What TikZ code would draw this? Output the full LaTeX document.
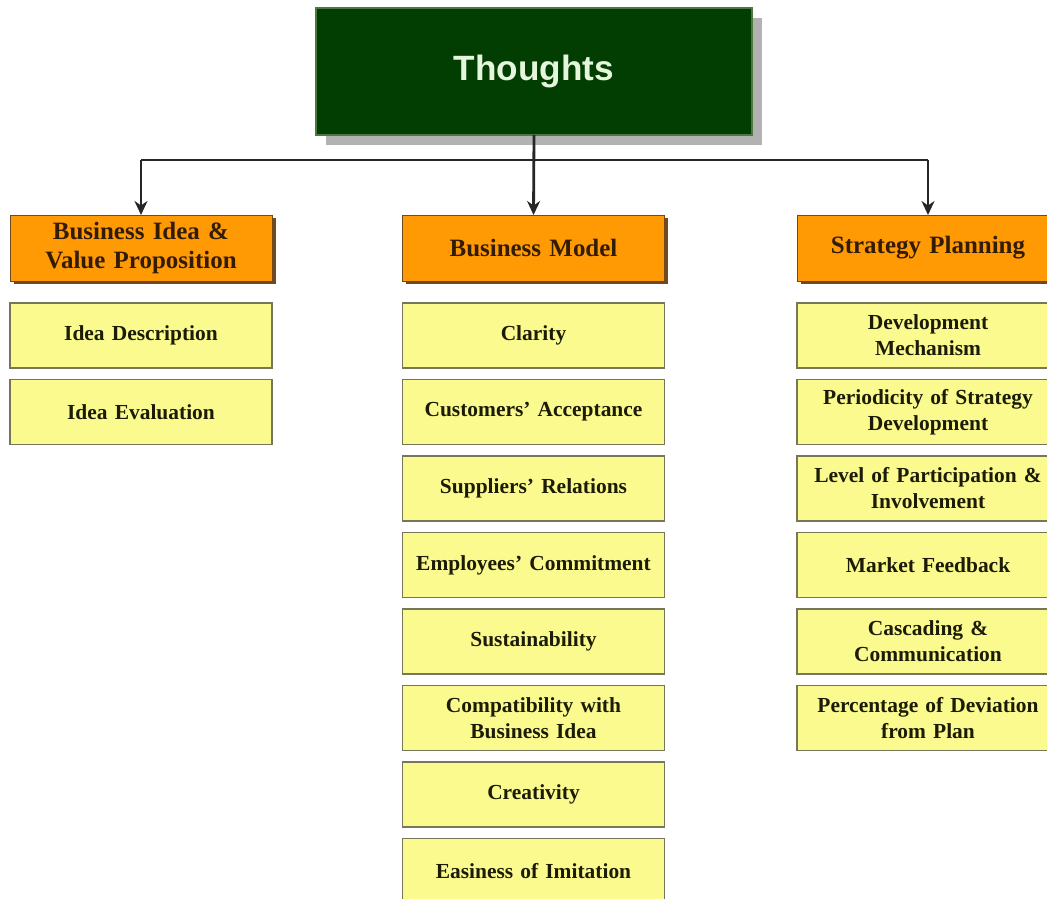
\documentclass[tikz,border=0pt]{standalone}
\usepackage{fontspec}
\setmainfont{Liberation Serif}
\newfontfamily\titlefont{Liberation Sans}
\usetikzlibrary{positioning,shadows,arrows.meta}

\definecolor{darkgreen}{HTML}{023D02}
\definecolor{greenedge}{HTML}{4C7A3C}
\definecolor{paleletter}{HTML}{E6F6DC}
\definecolor{headorange}{HTML}{FF9A05}
\definecolor{headshadow}{HTML}{6E4A1E}
\definecolor{headletter}{HTML}{321C04}
\definecolor{itemyellow}{HTML}{FAFA8E}
\definecolor{itemedge}{HTML}{76765A}
\definecolor{itemletter}{HTML}{1C1C06}

% tighter gaps between words in the boxes
\newcommand{\tightwords}{\spaceskip=0.16em plus 0.05em minus 0.02em\relax}

\begin{document}
\begin{tikzpicture}[
  topbox/.style={draw=greenedge, line width=0.6pt, fill=darkgreen,
    minimum width=8.72cm, minimum height=2.54cm, outer sep=0pt,
    text=paleletter, font=\titlefont\fontsize{20}{24}\selectfont\bfseries,
    drop shadow={shadow xshift=0.2cm, shadow yshift=-0.2cm, fill=black!30, opacity=1}},
  headbox/.style={draw=headshadow, line width=0.5pt, fill=headorange,
    minimum width=5.24cm, minimum height=1.32cm, outer sep=0pt,
    text width=5cm, align=center, text=headletter,
    font=\fontsize{14.2}{16.2}\selectfont\bfseries\tightwords,
    drop shadow={shadow xshift=0.07cm, shadow yshift=-0.07cm, fill=headshadow, opacity=1}},
  itembox/.style={draw=itemedge, line width=1.1pt, fill=itemyellow,
    minimum width=5.24cm, minimum height=1.3cm, outer sep=0pt,
    text width=5cm, align=center, text=itemletter,
    font=\fontsize{12.2}{14.8}\selectfont\bfseries\tightwords},
  link/.style={-{Stealth[length=0.28cm, width=0.26cm]}, line width=1.6pt, draw=black!85}
]
\useasboundingbox (0,0) rectangle (20.94,17.96);

% main box and the three headings
\node[topbox] (thoughts) at (10.68,16.53) {Thoughts};
\node[headbox] (idea) at (2.82,13.0) {Business Idea \&\\Value Proposition};
\node[headbox] (model) at (10.67,13.0) {Business Model};
\node[headbox] (strategy) at (18.56,13.0) {Strategy Planning};

% first column
\node[itembox, below=0.44cm of idea] (ideadesc) {Idea Description};
\node[itembox, below=0.23cm of ideadesc] (ideaeval) {Idea Evaluation};

% second column
\node[itembox, below=0.44cm of model] (clarity) {Clarity};
\node[itembox, below=0.23cm of clarity] (customers) {Customers' Acceptance};
\node[itembox, below=0.23cm of customers] (suppliers) {Suppliers' Relations};
\node[itembox, below=0.23cm of suppliers] (employees) {Employees' Commitment};
\node[itembox, below=0.23cm of employees] (sustain) {Sustainability};
\node[itembox, below=0.23cm of sustain] (compat) {Compatibility with\\Business Idea};
\node[itembox, below=0.23cm of compat] (creativity) {Creativity};
\node[itembox, below=0.23cm of creativity] (imitation) {Easiness of Imitation};

% third column
\node[itembox, below=0.44cm of strategy] (devmech) {Development\\Mechanism};
\node[itembox, below=0.23cm of devmech] (periodicity) {Periodicity of Strategy\\Development};
\node[itembox, below=0.23cm of periodicity] (participation) {Level of Participation \&\\Involvement};
\node[itembox, below=0.23cm of participation] (feedback) {Market Feedback};
\node[itembox, below=0.23cm of feedback] (cascading) {Cascading \&\\Communication};
\node[itembox, below=0.23cm of cascading] (deviation) {Percentage of Deviation\\from Plan};

% connectors
\coordinate (bar) at (10.68,14.76);
\draw[line width=1.6pt, draw=black!85] (bar -| idea) -- (bar -| strategy);
\draw[link] (thoughts.south) -- (model.north);
\draw[link] (bar -| idea) -- (idea.north);
\draw[link] (bar -| strategy) -- (strategy.north);
\end{tikzpicture}
\end{document}
